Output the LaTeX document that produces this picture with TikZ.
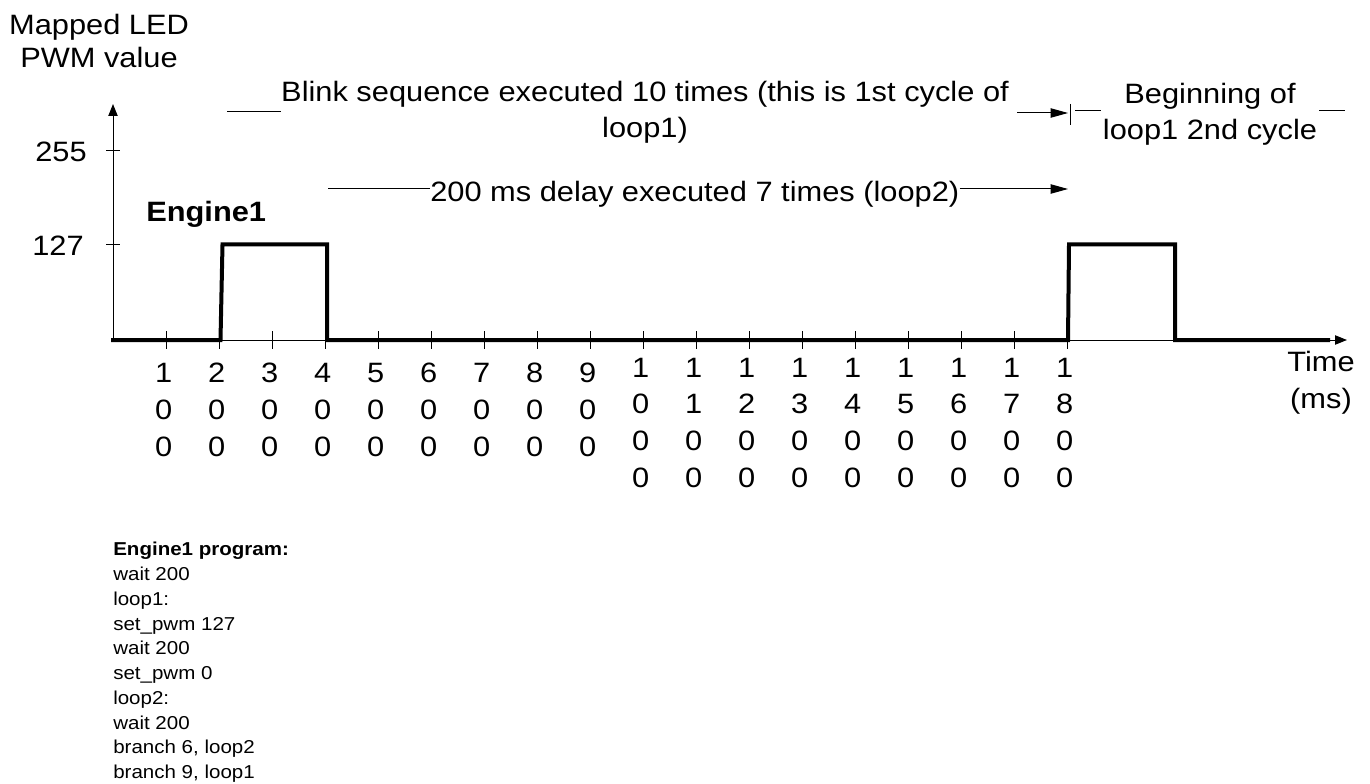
\documentclass[tikz,border=0pt]{standalone}
\usepackage{fontspec}
\setmainfont{Liberation Sans}[FakeStretch=1.1]
\usetikzlibrary{arrows.meta}
\newcommand{\bigtxt}{\fontsize{21}{27.6}\selectfont}
\newcommand{\progtxt}{\fontsize{14}{18.56}\selectfont}

\begin{document}
\begin{tikzpicture}[x=0.75pt,y=0.75pt,yscale=-1,xscale=1,
  axis/.style={line width=0.75pt},
  signal/.style={line width=3pt},
  axtip/.style={-{Triangle[length=9pt,width=7pt]}},
  notetip/.style={-{Triangle[length=13pt,width=7pt]}},
  lbl/.style={inner sep=0pt,font=\bigtxt,align=center},
  prog/.style={inner sep=0pt,font=\progtxt,align=left,anchor=base west}]
\useasboundingbox (0,0) rectangle (1370,784);

%Axes
\draw[axis,axtip] (113,340) -- (113,104);
\draw[axis,axtip] (113,340) -- (1347,340);
\foreach \y in {151,244.5}
  \draw[axis] (106,\y) -- (120,\y);
\foreach \k in {1,...,18}
  \draw[axis] ({113.7+53*\k},331) -- ({113.7+53*\k},349);

%Engine1 output
\draw[signal] (111,340) -- (220.5,340) -- (222.5,244.5) -- (327,244.5) -- (327,340)
  -- (1068,340) -- (1069,244.5) -- (1175,244.5) -- (1175,340) -- (1330,340);

% Text Node (base of a multi-line node = its last line)
\node[lbl,font=\fontsize{21}{24.75}\selectfont,anchor=base] (ylab) at (99,68) {Mapped LED\\PWM value};
% Text Node
\node[lbl,anchor=base east] (v255) at (87,161.7) {255};
% Text Node
\node[lbl,anchor=base east] (v127) at (84,256) {127};
% Text Node
\node[lbl,font=\bigtxt\bfseries,anchor=base west] (eng) at (146,222) {Engine1};
% Text Node
\node[lbl,anchor=base] (tlab) at (1321,408) {Time\\(ms)};

%Time labels
\foreach \k in {1,...,9}
  \node[lbl,anchor=base] (n\k) at ({110.7+53*\k},456.5) {\k\\0\\0};
\foreach \k [evaluate=\k as \j using int(\k+10)] in {0,...,8}
  \node[lbl,anchor=base] (n\j) at ({110.7+53*\j},487.5) {1\\\k\\0\\0};

%Blink sequence
\node[lbl,anchor=base] (blink) at (645,138) {Blink sequence executed 10 times (this is 1st cycle of\\loop1)};
\coordinate (bl) at (227,112);
\coordinate (ba) at (1017,113);
\coordinate (bb) at (1068,113);
\coordinate (bt) at (1070,104);
\coordinate (bu) at (1070,125);
\draw[axis] (bl) -- (blink.west |- bl);
\draw[axis,notetip] (ba) -- (bb);
\draw[axis] (bt) -- (bu);

% Text Node
\node[lbl,anchor=base] (begin) at (1210,140) {Beginning of\\loop1 2nd cycle};
\coordinate (gl) at (1075,111);
\coordinate (gr) at (1345,111);
\draw[axis] (gl) -- ([xshift=-1.5pt]begin.west |- gl);
\draw[axis] ([xshift=1.5pt]begin.east |- gr) -- (gr);

%200 ms delay
\node[lbl,anchor=base west] (delay) at (430,201.7) {200 ms delay executed 7 times (loop2)};
\coordinate (dl) at (328,189);
\coordinate (dr) at (1068,189);
\draw[axis] (dl) -- (delay.west |- dl);
\draw[axis,notetip] (delay.east |- dr) -- (dr);

%Program
\node[prog] (code) at (113,778.7) {\textbf{Engine1 program:}\\wait 200\\loop1:\\set\_pwm 127\\wait 200\\set\_pwm 0\\loop2:\\wait 200\\branch 6, loop2\\branch 9, loop1};

\end{tikzpicture}
\end{document}
